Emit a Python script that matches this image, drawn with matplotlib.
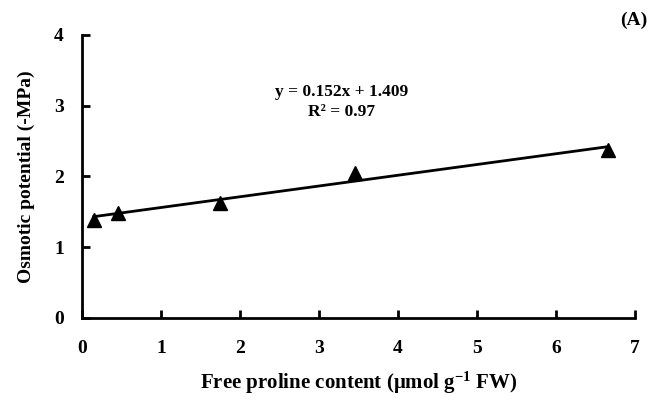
import numpy as np
import matplotlib.pyplot as plt

# 数据
proline = [0.15, 0.45, 1.75, 3.45, 6.65]
osmotic = [1.38, 1.48, 1.62, 2.05, 2.37]
slope = 0.152
intercept = 1.409
eq_text = "y = 0.152x + 1.409"
r2_text = "R² = 0.97"

plt.rcParams['font.family'] = ['Liberation Serif', 'DejaVu Serif']
plt.rcParams['font.weight'] = 'bold'
plt.rcParams['mathtext.fontset'] = 'custom'
plt.rcParams['mathtext.rm'] = 'Liberation Serif:bold'
plt.rcParams['mathtext.bf'] = 'Liberation Serif:bold'
plt.rcParams['mathtext.default'] = 'bf'

fig = plt.figure(figsize=(6.61, 4.01), dpi=100)
ax = fig.add_axes([0.124, 0.207, 0.837, 0.706])

# 趋势线
xs = np.array([min(proline), max(proline)])
ax.plot(xs, slope * xs + intercept, color='black', linewidth=2)
ax.plot(proline, osmotic, linestyle='none', marker='^', markersize=10, color='black')

ax.set_xlim(0, 7)
ax.set_ylim(0, 4)
ax.set_xticks(range(0, 8))
ax.set_yticks(range(0, 5))
for s in ['top', 'right']:
    ax.spines[s].set_visible(False)
for s in ['left', 'bottom']:
    ax.spines[s].set_linewidth(2)
ax.tick_params(direction='in', length=6, width=2, labelsize=14)
ax.tick_params(axis='x', pad=16)
ax.tick_params(axis='y', pad=13)
for lab in ax.get_xticklabels() + ax.get_yticklabels():
    lab.set_fontweight('bold')

ax.set_xlabel("Free proline content (μmol g$^{-1}$ FW)", fontsize=15, fontweight='bold', va='center')
ax.set_ylabel("Osmotic potential (-MPa)", fontsize=14, fontweight='bold', va='center')
ax.xaxis.set_label_coords(0.5, -0.23)
ax.yaxis.set_label_coords(-0.101, 0.5)

ax.text(3.28, 3.19, eq_text, ha='center', va='center', fontsize=12.5, fontweight='bold')
ax.text(3.28, 2.91, r2_text, ha='center', va='center', fontsize=12.5, fontweight='bold')
fig.text(0.98, 0.95, "(A)", ha='right', va='center', fontsize=14, fontweight='bold')

fig.savefig('out.png', dpi=100)
